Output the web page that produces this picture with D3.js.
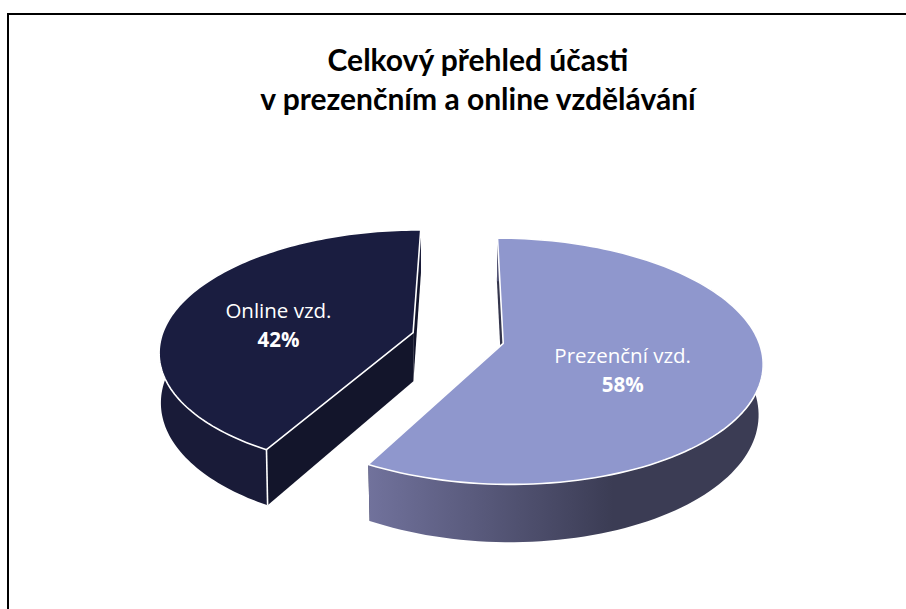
<!DOCTYPE html>
<html><head><meta charset="utf-8">
<script src="https://cdn.jsdelivr.net/npm/d3@7"></script>
<style>html,body{margin:0;padding:0;background:#fff}svg{display:block}</style>
</head><body><svg id="c" width="906" height="609"></svg>
<script>
const titleLines = ["Celkový přehled účasti", "v prezenčním a online vzdělávání"];
const categories = ["Prezenční vzd.", "Online vzd."];
const shares = [58, 42];
const topColors = ["#8f97cd", "#1a1d40"];
const cutColors = ["#34354c", "#13152b"];
const rimStops = [
  [["0%", "#71729c"], ["62%", "#3b3c54"], ["100%", "#3b3c54"]],
  [["0%", "#191b38"], ["100%", "#191b38"]]
];

const svg = d3.select("#c");
const defs = svg.append("defs");
svg.append("path").attr("d", "M8,609V14H906").attr("fill","none").attr("stroke","#000").attr("stroke-width",2);

// perspective projection of the tilted disc
const cx = 458.5, cy = 338, RY = 119, K = 0.145, H = 49;
const RX = [254.5, 252], EXPLODE = [0.18, 0.187], SHRINK = [0.985, 0.994], TWIST = [0.2, 0.7];
const project = (u, v, bottom, i) => {
  const s = 1 / (1 + K * v);
  const f = bottom ? SHRINK[i] : 1;
  return [cx + RX[i] * u * s * f, cy - RY * v * s + (bottom ? H * s : 0)];
};
const rot = -0.2 * Math.PI / 180;
const slices = d3.pie().sort(null).startAngle(rot).endAngle(rot + 2 * Math.PI)(shares);
const line = d3.line();
const STROKE = 1.6;

slices.forEach((d, i) => {
  const mid = (d.startAngle + d.endAngle) / 2;
  const twist = TWIST[i] * Math.PI / 180;
  const a0 = d.startAngle + twist, a1 = d.endAngle + twist;
  const ox = EXPLODE[i] * Math.sin(mid), oy = EXPLODE[i] * Math.cos(mid);
  const pt = (a, r, b) => project(ox + r * Math.sin(a), oy + r * Math.cos(a), b, i);
  const angles = d3.range(0, 121).map(t => a0 + (a1 - a0) * t / 120);
  const g = svg.append("g");
  const wall = (a, fill) => g.append("path")
    .attr("d", line([pt(a,0,false), pt(a,1,false), pt(a,1,true), pt(a,0,true)]) + "Z")
    .attr("fill", fill);
  wall(a0, cutColors[i]);
  wall(a1, cutColors[i]);

  const topPts = angles.map(a => pt(a,1,false));
  const botPts = angles.map(a => pt(a,1,true));
  const xs = topPts.map(p => p[0]);
  const gradId = "rim" + i;
  const grad = defs.append("linearGradient").attr("id", gradId).attr("gradientUnits","userSpaceOnUse")
    .attr("x1", i === 0 ? pt(a1,1,false)[0] : d3.min(xs)).attr("x2", d3.max(xs)).attr("y1",0).attr("y2",0);
  rimStops[i].forEach(s => grad.append("stop").attr("offset", s[0]).attr("stop-color", s[1]));
  g.append("path").attr("d", line(topPts.concat(botPts.slice().reverse())) + "Z").attr("fill", `url(#${gradId})`);

  // white seam where the dark rim meets its cut wall
  if (i === 1) g.append("path").attr("d", line([pt(a0,1,false), pt(a0,1,true)]))
    .attr("fill","none").attr("stroke","#fff").attr("stroke-width",STROKE);

  g.append("path")
    .attr("d", line([pt(0,0,false)].concat(topPts)) + "Z")
    .attr("fill", topColors[i]).attr("stroke", "#fff").attr("stroke-width", STROKE).attr("stroke-linejoin","round");

  const lp = pt(mid, i === 0 ? 0.47 : 0.57, false);
  const base = lp[1] + (i === 0 ? 6 : 2);
  const t = svg.append("text").attr("text-anchor","middle").attr("fill","#fff")
    .attr("font-family","'Open Sans',sans-serif").attr("font-size",20.5);
  t.append("tspan").attr("x",lp[0]).attr("y",base).text(categories[i]);
  t.append("tspan").attr("x",lp[0]).attr("y",base+28.5).attr("font-weight","bold").text(shares[i] + "%");
});

svg.append("g").selectAll("text").data(titleLines).join("text")
  .attr("x",478).attr("y",(d,i)=>71+i*39).attr("text-anchor","middle")
  .attr("font-family","Lato,sans-serif").attr("font-weight","bold").attr("font-size",30).attr("fill","#000")
  .text(d=>d);
</script></body></html>
